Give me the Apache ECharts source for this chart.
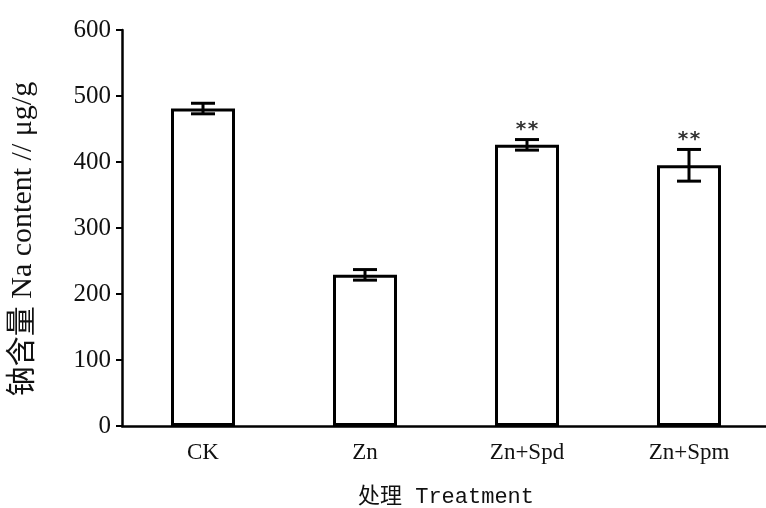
<!DOCTYPE html>
<html>
<head>
<meta charset="utf-8">
<script src="https://cdn.jsdelivr.net/npm/echarts@6/dist/echarts.min.js"></script>
<style>
  html, body { margin: 0; padding: 0; background: #fff; }
  #chart { width: 766px; height: 508px; }
</style>
</head>
<body>
<div id="chart"></div>
<script>
// values
const categories = ['CK', 'Zn', 'Zn+Spd', 'Zn+Spm'];
const naContent = [481, 229, 426, 395];
const naError = [8, 8, 8, 24];
const marks = ['', '', '**', '**'];
const yTicks = [0, 100, 200, 300, 400, 500, 600];

const serif = '"Liberation Serif", "Times New Roman", "Noto Sans CJK SC", serif';
const mono = '"Liberation Mono", "Noto Sans CJK SC", monospace';

const errorData = naContent.map((v, i) => [i, v, naError[i], marks[i]]);

const renderError = (params, api) => {
  const x = api.value(0);
  const v = api.value(1);
  const e = api.value(2);
  const top = api.coord([x, v + e]);
  const bot = api.coord([x, v - e]);
  const half = 12;
  const style = { stroke: '#000', lineWidth: 3 };
  const children = [
    { type: 'line', shape: { x1: top[0], y1: top[1], x2: bot[0], y2: bot[1] }, style: style },
    { type: 'line', shape: { x1: top[0] - half, y1: top[1], x2: top[0] + half, y2: top[1] }, style: style },
    { type: 'line', shape: { x1: bot[0] - half, y1: bot[1], x2: bot[0] + half, y2: bot[1] }, style: style }
  ];
  const m = errorData[params.dataIndex][3];
  if (m) {
    children.push({
      type: 'text',
      style: {
        text: m, x: top[0], y: top[1],
        textAlign: 'center', textVerticalAlign: 'bottom',
        font: 'bold 20px "DejaVu Sans Mono", monospace', fill: '#333'
      }
    });
  }
  return { type: 'group', children: children };
};

const chart = echarts.init(document.getElementById('chart'));
chart.setOption({
  animation: false,
  grid: { left: 122, top: 30, width: 648, height: 396, containLabel: false, outerBoundsMode: 'none' },
  xAxis: {
    type: 'category',
    data: categories,
    name: '处理 Treatment',
    nameLocation: 'middle',
    nameGap: 60,
    nameTextStyle: { fontFamily: mono, fontSize: 22, color: '#111' },
    axisLine: { lineStyle: { color: '#000', width: 2.5 } },
    axisTick: { inside: true, length: 6, lineStyle: { color: '#000', width: 2 } },
    axisLabel: { fontFamily: serif, fontSize: 23, color: '#111', margin: 15 }
  },
  yAxis: {
    type: 'value',
    min: yTicks[0],
    max: yTicks[yTicks.length - 1],
    interval: 100,
    name: '钠含量 Na content // μg/g',
    nameLocation: 'middle',
    nameGap: 84,
    nameRotate: 90,
    nameTextStyle: { fontFamily: serif, fontSize: 30, color: '#111', padding: [0, 22, 0, 0] },
    splitLine: { show: false },
    axisLine: { show: true, lineStyle: { color: '#000', width: 2.5 } },
    axisTick: { show: true, length: 6, lineStyle: { color: '#000', width: 2 } },
    axisLabel: { fontFamily: serif, fontSize: 25, color: '#111', margin: 11 }
  },
  series: [
    {
      type: 'bar',
      data: naContent,
      barWidth: 64,
      itemStyle: { color: '#fff', borderColor: '#000', borderWidth: 3 },
      z: 2
    },
    {
      type: 'custom',
      data: errorData,
      renderItem: renderError,
      z: 3
    }
  ]
});

window.addEventListener('resize', function () {
  chart.resize();
});
</script>
</body>
</html>
